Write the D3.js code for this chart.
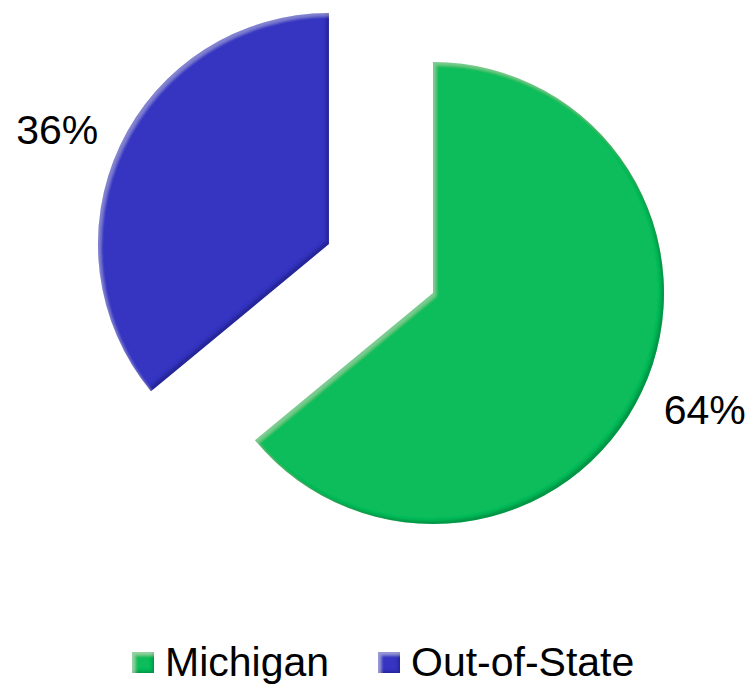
<!DOCTYPE html>
<html>
<head>
<meta charset="utf-8">
<script src="https://cdn.jsdelivr.net/npm/d3@7"></script>
<style>
  html, body { margin: 0; padding: 0; background: #fff; overflow: hidden; }
  svg { display: block; font-family: "Liberation Sans", Arial, sans-serif; }
</style>
</head>
<body>
<div id="chart"></div>
<script>
'use strict';

// Chart data
var categories = ['Michigan', 'Out-of-State'];
var shares = [64, 36];
var sliceColors = ['#0cbc5a', '#3434c2'];
var explodedSlices = [false, true];

var width = 750, height = 685;
var cx = 433, cy = 293, radius = 231, explodeBy = 115;

var svg = d3.select('#chart').append('svg')
  .attr('width', width)
  .attr('height', height);

// Bevel filter: light on top-left edges, dark on bottom-right edges
function addBevel(id, blur, shift, darkOp, lightOp) {
  var f = svg.append('defs').append('filter')
    .attr('id', id)
    .attr('x', '-10%').attr('y', '-10%')
    .attr('width', '120%').attr('height', '120%');
  f.append('feGaussianBlur').attr('in', 'SourceAlpha').attr('stdDeviation', blur).attr('result', 'blur');
  f.append('feOffset').attr('in', 'blur').attr('dx', -shift).attr('dy', -shift).attr('result', 'offDark');
  f.append('feComposite').attr('in', 'SourceAlpha').attr('in2', 'offDark').attr('operator', 'out').attr('result', 'darkMask');
  f.append('feFlood').attr('flood-color', '#000').attr('flood-opacity', darkOp).attr('result', 'darkColor');
  f.append('feComposite').attr('in', 'darkColor').attr('in2', 'darkMask').attr('operator', 'in').attr('result', 'dark');
  f.append('feOffset').attr('in', 'blur').attr('dx', shift).attr('dy', shift).attr('result', 'offLight');
  f.append('feComposite').attr('in', 'SourceAlpha').attr('in2', 'offLight').attr('operator', 'out').attr('result', 'lightMask');
  f.append('feFlood').attr('flood-color', '#fff').attr('flood-opacity', lightOp).attr('result', 'lightColor');
  f.append('feComposite').attr('in', 'lightColor').attr('in2', 'lightMask').attr('operator', 'in').attr('result', 'light');
  var m = f.append('feMerge');
  m.append('feMergeNode').attr('in', 'SourceGraphic');
  m.append('feMergeNode').attr('in', 'dark');
  m.append('feMergeNode').attr('in', 'light');
}
addBevel('bevel', 1.8, 3, 0.4, 0.2);
addBevel('bevelSmall', 1.5, 2.5, 0.4, 0.3);

var rows = categories.map(function(name, i) {
  return { name: name, value: shares[i], color: sliceColors[i], exploded: explodedSlices[i] };
});

var pie = d3.pie().sort(null).value(function(d) { return d.value; });
var arc = d3.arc().innerRadius(0).outerRadius(radius);
var slices = pie(rows);

var g = svg.append('g').attr('transform', 'translate(' + cx + ',' + cy + ')');

function offsetOf(d) {
  if (!d.data.exploded) return [0, 0];
  var mid = (d.startAngle + d.endAngle) / 2;
  return [Math.sin(mid) * explodeBy, -Math.cos(mid) * explodeBy];
}

slices.forEach(function(d) {
  var off = offsetOf(d);
  var sg = g.append('g').attr('transform', 'translate(' + off[0] + ',' + off[1] + ')');
  sg.append('path')
    .attr('d', arc(d))
    .attr('fill', d.data.color)
    .attr('filter', 'url(#bevel)');

  // label placed just outside the arc end
  var mid = (d.startAngle + d.endAngle) / 2;
  var lr = radius + 24;
  var px = Math.sin(mid) * lr, py = -Math.cos(mid) * lr;
  sg.append('text')
    .attr('x', px)
    .attr('y', py + (py > 0 ? 8 : -5))
    .attr('text-anchor', px > 0 ? 'start' : 'end')
    .attr('dominant-baseline', 'central')
    .style('font-size', '41px')
    .style('fill', '#000')
    .text(d.data.value + '%');
});

// Legend
var legend = svg.append('g');
var legendX = [132, 378];
rows.forEach(function(row, i) {
  legend.append('rect')
    .attr('x', legendX[i]).attr('y', 652)
    .attr('width', 22).attr('height', 21)
    .attr('fill', row.color)
    .attr('filter', 'url(#bevelSmall)');
  legend.append('text')
    .attr('x', legendX[i] + 33)
    .attr('y', 676)
    .style('font-size', '41px')
    .style('fill', '#000')
    .text(row.name);
});
</script>
</body>
</html>
